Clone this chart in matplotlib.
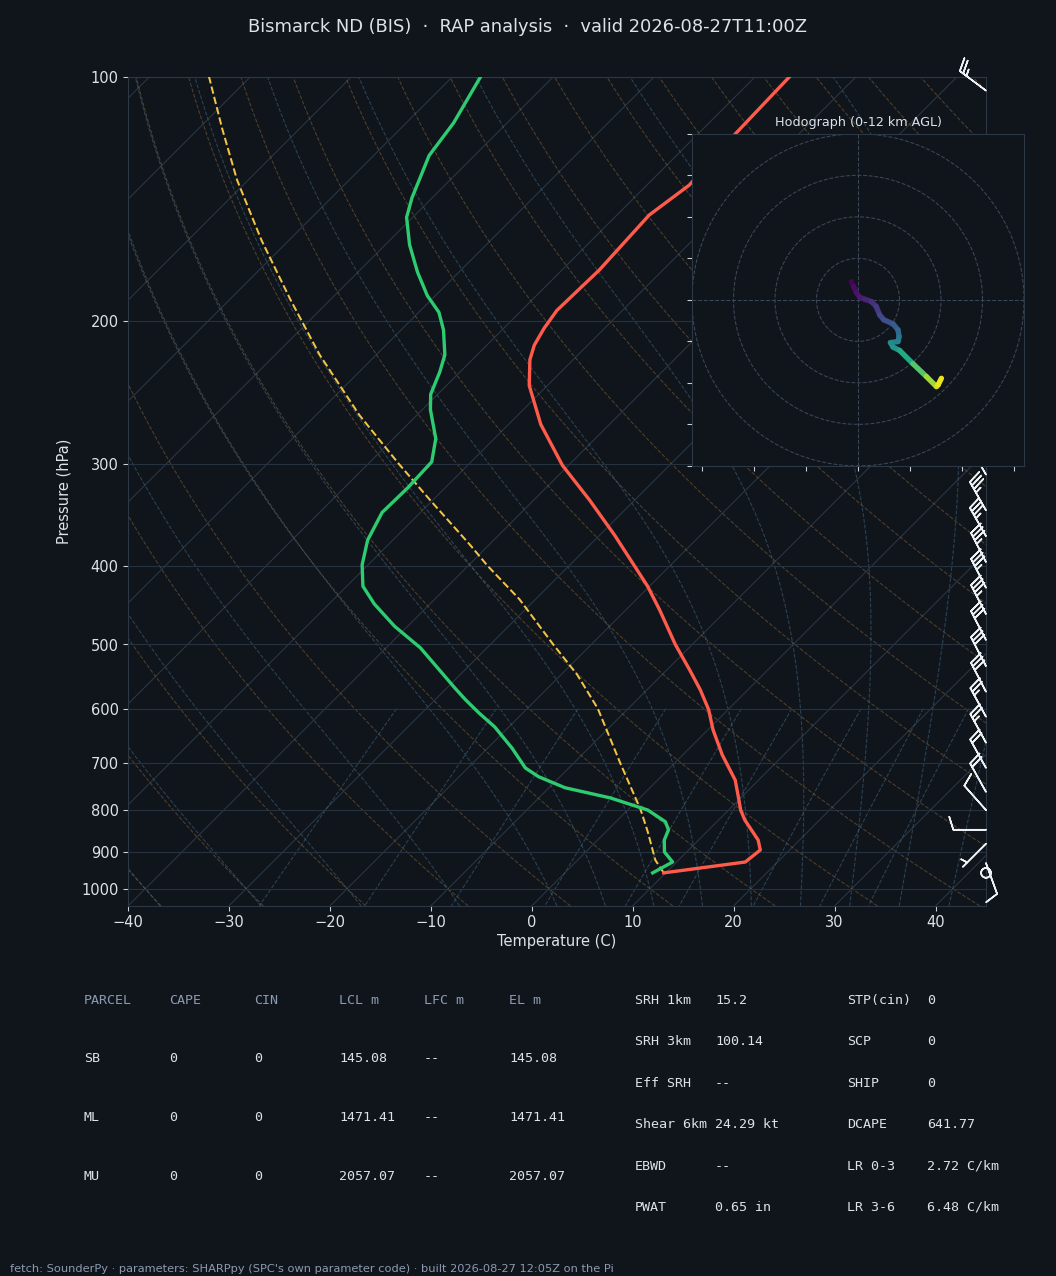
import numpy as np
import matplotlib
matplotlib.use("Agg")
import matplotlib.pyplot as plt
from matplotlib.collections import LineCollection

# ---- sounding (hPa, degC) ----
p_temp = [956, 927, 896, 871, 823, 800, 777, 735, 684, 637, 602, 569, 538, 500,
          454, 424, 367, 332, 301, 268, 240, 223, 214, 204, 194, 173, 148, 136, 118, 100]
temp = [9.8, 16.8, 17.1, 15.9, 12.6, 11.2, 10.0, 7.7, 3.9, 0.5, -1.9, -4.7, -7.7, -11.7,
        -16.6, -20.2, -28.5, -34.5, -40.6, -46.8, -51.8, -54.3, -55.3, -56.0, -56.5,
        -56.3, -56.8, -55.8, -56.3, -56.6]

p_dwpt = [956, 927, 901, 871, 846, 827, 800, 773, 751, 728, 710, 671, 632, 607, 585,
          566, 505, 475, 446, 424, 399, 372, 344, 321, 298, 279, 257, 246, 231, 220,
          205, 195, 186, 174, 161, 149, 141, 125, 114, 100]
dwpt = [8.7, 9.6, 7.8, 6.6, 6.0, 4.9, 2.0, -2.9, -8.4, -12.1, -14.3, -17.6, -21.4,
        -24.4, -27.0, -29.2, -36.6, -41.3, -45.5, -48.4, -50.6, -52.5, -53.8, -53.7,
        -53.9, -55.8, -59.2, -60.7, -62.0, -63.2, -65.8, -68.0, -70.8, -74.1, -77.6,
        -80.6, -82.0, -84.5, -85.3, -87.2]

p_parcel = [956, 922, 850, 800, 700, 600, 545, 500, 440, 400, 377, 332, 300, 261,
            220, 188, 159, 134, 116, 100]
parcel = [9.8, 7.7, 4.1, 1.3, -5.4, -13.0, -18.4, -23.8, -31.6, -38.1, -41.9, -50.3,
          -56.9, -65.7, -75.6, -84.0, -92.7, -101.1, -107.6, -114.1]

# wind barbs (kt)
p_barb = [104, 309, 342, 368, 396, 426, 459, 494, 532, 572, 614, 661, 710, 760,
          800, 846, 880, 930, 956]
u_barb = [20, 20, 17, 17, 16, 16, 16, 14, 14, 14, 12, 12, 10, 10, 8, 10, 4, -3.4, 0.5]
v_barb = [-15, -35, -30, -30, -31, -31, -31, -27, -27, -27, -22, -22, -18, -18, -9,
          0, 4, 9.4, 0.5]

# hodograph (kt) with height AGL (km)
hodo_z = [0.0, 0.25, 0.5, 0.75, 1.0, 1.4, 1.8, 2.3, 2.7, 3.2, 3.8, 4.4, 5.0, 5.5,
          6.0, 6.6, 8.0, 9.6, 11.0, 11.3, 12.0]
hodo_u = [-3.2, -2.1, -0.8, 0.8, 3.2, 6.4, 8.8, 10.4, 12.4, 16.9, 19.3, 19.8, 19.3,
          15.6, 16.9, 20.1, 26.5, 32.9, 37.8, 38.6, 40.2]
hodo_v = [8.8, 6.4, 3.5, 1.3, 0.3, -0.8, -3.2, -7.2, -9.6, -11.6, -14.5, -17.7,
          -20.1, -20.6, -22.8, -24.4, -30.8, -36.9, -41.8, -41.0, -37.8]

title = "Bismarck ND (BIS)  \u00b7  RAP analysis  \u00b7  valid 2026-08-27T11:00Z"
footer = ("fetch: SounderPy \u00b7 parameters: SHARPpy (SPC's own parameter code) "
          "\u00b7 built 2026-08-27 12:05Z on the Pi")

parcel_cols = ["PARCEL", "CAPE", "CIN", "LCL m", "LFC m", "EL m"]
parcel_rows = [["SB", "0", "0", "145.08", "--", "145.08"],
               ["ML", "0", "0", "1471.41", "--", "1471.41"],
               ["MU", "0", "0", "2057.07", "--", "2057.07"]]
index_left = [("SRH 1km", "15.2"), ("SRH 3km", "100.14"), ("Eff SRH", "--"),
              ("Shear 6km", "24.29 kt"), ("EBWD", "--"), ("PWAT", "0.65 in")]
index_right = [("STP(cin)", "0"), ("SCP", "0"), ("SHIP", "0"), ("DCAPE", "641.77"),
               ("LR 0-3", "2.72 C/km"), ("LR 3-6", "6.48 C/km")]

# ---- style ----
BG = "#10151c"
FG = "#dde2e8"
DIM = "#8c9bb0"
SPINE = "#2c3845"

W, H, DPI = 1056, 1276, 96
fig = plt.figure(figsize=(W / DPI, (H + 0.2) / DPI), dpi=DPI, facecolor=BG)

# main skew-T axes, pixel box
L, R, T_, B = 128, 986, 77, 906
ax = fig.add_axes([L / W, 1 - B / H, (R - L) / W, (B - T_) / H], facecolor=BG)
XMIN, XMAX = -40, 45
PBOT, PTOP = 1050.0, 100.0
SKEW = (XMAX - XMIN) * (B - T_) / (R - L)   # 45 degrees on screen


def skx(t, p):
    return np.asarray(t) + SKEW * np.log(PBOT / np.asarray(p)) / np.log(PBOT / PTOP)


ax.set_yscale("log")
ax.set_ylim(PBOT, PTOP)
ax.set_xlim(XMIN, XMAX)
ax.yaxis.set_major_locator(matplotlib.ticker.FixedLocator(np.arange(100, 1001, 100)))
ax.yaxis.set_major_formatter(matplotlib.ticker.FormatStrFormatter("%d"))
ax.yaxis.set_minor_locator(matplotlib.ticker.NullLocator())
ax.set_xticks(np.arange(-40, 41, 10))
ax.grid(True, axis="y", color="#263240", lw=0.8)
for s in ax.spines.values():
    s.set_color(SPINE)
ax.tick_params(colors="#c8d0d8", labelcolor=FG, labelsize=11)
ax.set_xlabel("Temperature (C)", color=FG, fontsize=11, labelpad=3)
ax.set_ylabel("Pressure (hPa)", color=FG, fontsize=11, labelpad=7)

pp = np.linspace(PBOT, PTOP, 200)

# isotherms
for t0 in np.arange(-160, 50, 10):
    ax.plot(skx(t0, pp), pp, color="#2b3744", lw=0.8, zorder=1)

# dry adiabats (theta referenced to 1000 hPa)
for t0 in np.arange(-40, 230, 10):
    tt = (t0 + 273.15) * (pp / 1000.0) ** 0.2857 - 273.15
    ax.plot(skx(tt, pp), pp, color="#8a6a3c", lw=0.8, ls="--", alpha=0.5, zorder=1)

# moist adiabats
RD, CP, LV, EPS = 287.04, 1005.7, 2.501e6, 0.622


def dtdp(tk, p):
    es = 6.112 * np.exp(17.67 * (tk - 273.15) / (tk - 29.65))
    rs = EPS * es / (p - es)
    return (RD * tk + LV * rs) / (p * (CP + LV * LV * rs * EPS / (RD * tk * tk)))


def moist(t0k, pgrid):
    out = [t0k]
    tk = t0k
    for i in range(len(pgrid) - 1):
        p0, h = pgrid[i], pgrid[i + 1] - pgrid[i]
        k1 = dtdp(tk, p0)
        k2 = dtdp(tk + h / 2 * k1, p0 + h / 2)
        k3 = dtdp(tk + h / 2 * k2, p0 + h / 2)
        k4 = dtdp(tk + h * k3, p0 + h)
        tk = tk + h / 6 * (k1 + 2 * k2 + 2 * k3 + k4)
        out.append(tk)
    return np.array(out)


t0m = np.concatenate((np.arange(-40, 0, 10), np.arange(0, 46, 5))) + 273.15
p_up = np.linspace(1000, 100, 181)
p_dn = np.linspace(1000, 1050, 11)
tm_up = moist(t0m, p_up)
tm_dn = moist(t0m, p_dn)
pm = np.concatenate((p_dn[::-1], p_up[1:]))
tm = np.concatenate((tm_dn[::-1], tm_up[1:])) - 273.15
for j in range(len(t0m)):
    ax.plot(skx(tm[:, j], pm), pm, color="#3e6178", lw=0.8, ls="--", alpha=0.6, zorder=1)

# mixing ratio lines
pw = np.linspace(600, PBOT, 50)
for w in [0.0004, 0.001, 0.002, 0.004, 0.007, 0.01, 0.016, 0.024, 0.032]:
    e = pw * w / (EPS + w)
    le = np.log(e / 6.112)
    td = 243.5 * le / (17.67 - le)
    ax.plot(skx(td, pw), pw, color="#3e6178", lw=0.8, ls="--", alpha=0.6, zorder=1)

# profiles
ax.plot(skx(temp, p_temp), p_temp, color="#ff5b4b", lw=2.5, zorder=5)
ax.plot(skx(dwpt, p_dwpt), p_dwpt, color="#2ecc71", lw=2.5, zorder=5)
ax.plot(skx(parcel, p_parcel), p_parcel, color="#f4c542", lw=1.5, ls="--", zorder=4)

# barbs on the right edge
ax.barbs(np.ones(len(p_barb)), p_barb, u_barb, v_barb, transform=ax.get_yaxis_transform(),
         clip_on=False, color="#eef1f4", length=7, linewidth=1.2, zorder=6)

# ---- hodograph inset ----
hx0, hx1, hy0, hy1 = 692, 1024, 134, 466
axh = fig.add_axes([hx0 / W, 1 - hy1 / H, (hx1 - hx0) / W, (hy1 - hy0) / H], facecolor=BG)
axh.set_xlim(-80, 80)
axh.set_ylim(-80, 80)
for r in [20, 40, 60, 80]:
    ang = np.linspace(0, 2 * np.pi, 200)
    axh.plot(r * np.cos(ang), r * np.sin(ang), color="#3a4756", lw=0.8, ls="--")
axh.axhline(0, color="#3a4756", lw=0.8, ls="--")
axh.axvline(0, color="#3a4756", lw=0.8, ls="--")
pts = np.column_stack([hodo_u, hodo_v]).reshape(-1, 1, 2)
segs = np.concatenate([pts[:-1], pts[1:]], axis=1)
lc = LineCollection(segs, cmap="viridis", linewidths=4, capstyle="round")
lc.set_array(np.array(hodo_z[:-1]) * 0.5 + np.array(hodo_z[1:]) * 0.5)
lc.set_clim(0, 12)
axh.add_collection(lc)
axh.set_xticks(np.arange(-75, 76, 25))
axh.set_yticks(np.arange(-80, 81, 20))
axh.tick_params(colors="#c8d0d8", labelbottom=False, labelleft=False)
for s in axh.spines.values():
    s.set_color(SPINE)
axh.set_title("Hodograph (0-12 km AGL)", color=FG, fontsize=9.6)

# ---- title, tables, footer ----
fig.text(0.5, 1 - 27 / H, title, ha="center", va="center", color=FG, fontsize=13.4)

mono = "DejaVu Sans Mono"
col_x = [84, 169, 254, 339, 424, 509]
row_y = [1000, 1058, 1117, 1176]
for cx, name in zip(col_x, parcel_cols):
    fig.text(cx / W, 1 - row_y[0] / H, name, family=mono, fontsize=10, color=DIM, va="center")
for ry, row in zip(row_y[1:], parcel_rows):
    for cx, val in zip(col_x, row):
        fig.text(cx / W, 1 - ry / H, val, family=mono, fontsize=10, color=FG, va="center")

idx_y = [1000, 1041, 1083, 1124, 1166, 1207]
for ry, (a, b), (c, d) in zip(idx_y, index_left, index_right):
    fig.text(635 / W, 1 - ry / H, a, family=mono, fontsize=10, color=FG, va="center")
    fig.text(715 / W, 1 - ry / H, b, family=mono, fontsize=10, color=FG, va="center")
    fig.text(847 / W, 1 - ry / H, c, family=mono, fontsize=10, color=FG, va="center")
    fig.text(927 / W, 1 - ry / H, d, family=mono, fontsize=10, color=FG, va="center")

fig.text(10 / W, 1 - 1269 / H, footer, fontsize=8.5, color=DIM, va="center")

fig.savefig("out.png", dpi=DPI, facecolor=BG)
